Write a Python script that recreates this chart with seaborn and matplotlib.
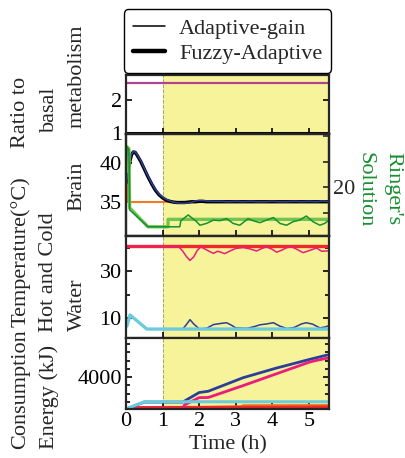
import matplotlib
matplotlib.use("Agg")
import matplotlib.pyplot as plt
from matplotlib.lines import Line2D
from matplotlib.ticker import FixedLocator
import seaborn as sns

# ── data (time in hours) ──
T_END = 5.55

ratio_t = [0, T_END]
ratio_adaptive = [2.52, 2.52]
ratio_fuzzy = [1.0, 1.0]

brain_t = [0, 0.05, 0.1, 0.15, 0.2, 0.25, 0.3, 0.4, 0.5, 0.6, 0.7, 0.8, 0.9, 1.0,
           1.1, 1.2, 1.3, 1.4, 1.5, 1.6, 1.7, 1.8, 1.9, 2.0, 2.1, 2.2, 2.4, 2.6,
           2.8, 3.0, 3.2, 3.4, 3.6, 3.8, 4.0, 4.2, 4.4, 4.6, 4.8, 5.0, 5.2, 5.4, 5.55]
brain_adaptive = [37.4, 38.6, 40.2, 41.1, 41.45, 41.4, 41.1, 40.3, 39.3, 38.3, 37.4,
                  36.6, 36.0, 35.6, 35.3, 35.1, 34.95, 34.85, 34.8, 34.8, 34.85, 34.95,
                  35.1, 35.15, 35.15, 35.1, 35.05, 35.05, 35.0, 35.05, 35.0, 35.05,
                  35.0, 35.0, 35.05, 35.0, 35.0, 35.05, 35.0, 35.05, 35.0, 35.1, 35.0]
brain_fuzzy = [37.4, 38.5, 40.1, 41.0, 41.4, 41.35, 41.0, 40.2, 39.2, 38.2, 37.3,
               36.5, 35.9, 35.5, 35.2, 35.05, 34.95, 34.9, 34.9, 34.9, 34.95, 35.0,
               35.0, 35.05, 35.05, 35.0, 35.0, 35.0, 35.0, 35.0, 35.0, 35.0,
               35.0, 35.0, 35.0, 35.0, 35.0, 35.0, 35.0, 35.0, 35.0, 35.0, 35.0]
target_t = [0, 0.04, 0.04, T_END]
target = [37.4, 37.4, 35.0, 35.0]

ringer_fuzzy_t = [0, 0.03, 0.08, 0.1, 0.6, 1.15, 1.15, T_END]
ringer_fuzzy = [23.0, 27.9, 27.5, 16.0, 12.3, 12.3, 13.75, 13.75]
ringer_adaptive_t = [0, 0.03, 0.08, 0.1, 0.6, 1.47, 1.5, 1.7, 1.79, 1.93, 2.02, 2.2,
                     2.39, 2.57, 2.75, 2.93, 3.11, 3.34, 3.47, 3.66, 3.84, 4.03, 4.21,
                     4.39, 4.57, 4.75, 4.93, 5.11, 5.3, 5.43, 5.55]
ringer_adaptive = [22.8, 27.9, 27.3, 15.6, 12.3, 12.3, 13.5, 14.6, 14.1, 13.3, 12.6,
                   12.95, 13.6, 13.5, 13.9, 12.95, 12.6, 13.9, 13.5, 13.1, 13.6, 14.1,
                   12.95, 12.6, 13.3, 13.6, 14.4, 13.3, 12.6, 12.95, 13.6]

hot_fuzzy_t = [0, T_END]
hot_fuzzy = [40.6, 40.6]
hot_adaptive_t = [0, 1.0, 1.45, 1.55, 1.65, 1.75, 1.85, 1.95, 2.05, 2.2, 2.39, 2.5,
                  2.57, 2.7, 2.84, 3.0, 3.2, 3.39, 3.57, 3.7, 3.84, 4.0, 4.12, 4.25,
                  4.39, 4.5, 4.57, 4.7, 4.84, 5.03, 5.21, 5.35, 5.55]
hot_adaptive = [40.6, 40.6, 40.2, 38.5, 36.2, 34.5, 36.0, 38.8, 40.3, 39.0, 37.5,
                38.4, 38.1, 37.4, 38.5, 39.6, 40.0, 39.4, 38.5, 39.5, 40.3, 39.2,
                38.0, 38.8, 39.9, 40.3, 40.0, 39.0, 37.8, 38.8, 39.8, 38.4, 38.6]
cold_fuzzy_t = [0, 0.03, 0.11, 0.57, T_END]
cold_fuzzy = [6.3, 6.8, 11.3, 5.3, 5.3]
cold_adaptive_t = [0, 0.03, 0.11, 0.57, 1.55, 1.65, 1.75, 1.85, 2.0, 2.2, 2.39, 2.55,
                   2.75, 2.9, 3.0, 3.3, 3.5, 3.66, 3.85, 4.03, 4.2, 4.4, 4.6, 4.8,
                   4.93, 5.1, 5.3, 5.45, 5.55]
cold_adaptive = [6.3, 6.8, 11.3, 5.3, 5.3, 7.2, 9.3, 7.5, 5.4, 5.6, 7.2, 7.6, 8.0,
                 6.8, 5.8, 5.6, 6.3, 7.1, 7.5, 8.0, 6.6, 5.5, 6.0, 7.5, 8.0, 7.4,
                 5.8, 6.2, 6.8]

energy_t = [0, 0.5, 1.55, 2.0, 2.25, 3.2, 4.1, 5.03, 5.48, 5.55]
energy_adaptive = [2060, 2480, 2480, 3060, 3140, 3960, 4540, 5080, 5330, 5350]
energy_hot_t = [0, 1.55, 1.6, 2.0, 2.25, 3.2, 4.1, 5.03, 5.2, 5.48, 5.55]
energy_hot = [2060, 2060, 2310, 2750, 2760, 3480, 4190, 4920, 5010, 5140, 5140]
energy_cold_t = [0, 0.5, T_END]
energy_cold = [2060, 2500, 2500]
energy_red_t = [0, 0.3, T_END]
energy_red = [2060, 2130, 2160]
energy_orange_t = [0, 3.2, 3.2, T_END]
energy_orange = [2060, 2200, 2260, 2270]

BLUE = "#2b3f98"
ORANGE = "#f07a22"
DGREEN = "#16902f"
LGREEN = "#72c450"
RED = "#f0282a"
PINK = "#ec1c7c"
CYAN = "#6ccbdc"
PURPLE = "#b0448e"
YELLOW = "#f7f39b"

sns.set_theme(style="ticks")
plt.rcParams["font.family"] = ["Liberation Serif", "DejaVu Serif"]
plt.rcParams["font.size"] = 16

W, H = 406, 458
fig = plt.figure(figsize=(W / 100, H / 100), dpi=100)


def rect(top, bot):
    return [126 / W, 1 - bot / H, (329 - 126) / W, (bot - top) / H]


def line(ax, t, v, color, lw):
    sns.lineplot(x=t, y=v, ax=ax, color=color, linewidth=lw,
                 estimator=None, sort=False, legend=False)


ax1 = fig.add_axes(rect(75, 134))
ax2 = fig.add_axes(rect(134, 236))
ax3 = fig.add_axes(rect(236, 338))
ax4 = fig.add_axes(rect(338, 409))
axes = [ax1, ax2, ax3, ax4]

for ax in axes:
    ax.axvspan(1, T_END, color=YELLOW, lw=0, zorder=0)
    ax.axvline(1, color="#a8a070", lw=0.7, ls="--", zorder=0.5)
    ax.set_xlim(0, T_END)
    ax.set_xticks([0, 1, 2, 3, 4, 5])
    for s in ax.spines.values():
        s.set_linewidth(1.6)
        s.set_zorder(5)
    ax.tick_params(which="both", direction="in", left=True, right=True,
                   bottom=True, labelsize=16, pad=3, width=1.2, colors="black")
    ax.tick_params(which="major", length=4)
    ax.tick_params(which="minor", length=3)
    ax.set_xlabel("")
    ax.set_ylabel("")
    if ax is not ax4:
        ax.tick_params(labelbottom=False)

# ── ratio to basal metabolism ──
line(ax1, ratio_t, ratio_adaptive, PURPLE, 1.6)
line(ax1, ratio_t, ratio_fuzzy, "black", 2.2)
ax1.set_ylim(0.96, 2.76)
ax1.set_yticks([1, 2])

# ── brain temperature + Ringer's ──
line(ax2, target_t, target, ORANGE, 1.5)
line(ax2, brain_t, brain_fuzzy, "black", 2.4)
line(ax2, brain_t, brain_adaptive, BLUE, 1.1)
ax2.set_ylim(30.6, 43.7)
ax2.set_yticks([35, 40])
ax2.tick_params(right=False, which="both")

axr = ax2.twinx()
line(axr, ringer_fuzzy_t, ringer_fuzzy, LGREEN, 2.4)
line(axr, ringer_adaptive_t, ringer_adaptive, DGREEN, 1.1)
axr.set_ylim(10.5, 30.4)
axr.set_yticks([20])
axr.yaxis.set_minor_locator(FixedLocator([15, 25, 30]))
axr.tick_params(which="both", direction="in", right=True, labelsize=16, pad=3, width=1.2)
axr.tick_params(which="major", length=4)
axr.tick_params(which="minor", length=4)
axr.set_ylabel("")
for s in axr.spines.values():
    s.set_linewidth(1.6)

# ── hot and cold water ──
line(ax3, hot_fuzzy_t, hot_fuzzy, RED, 2.4)
line(ax3, hot_adaptive_t, hot_adaptive, PINK, 1.1)
line(ax3, cold_adaptive_t, cold_adaptive, BLUE, 1.1)
line(ax3, cold_fuzzy_t, cold_fuzzy, CYAN, 2.4)
ax3.set_ylim(1.5, 44.9)
ax3.set_yticks([10, 30])
ax3.yaxis.set_minor_locator(FixedLocator([20, 40]))

# ── energy consumption ──
line(ax4, energy_orange_t, energy_orange, ORANGE, 2.2)
line(ax4, energy_red_t, energy_red, RED, 2.6)
line(ax4, energy_t, energy_adaptive, BLUE, 2.0)
line(ax4, energy_hot_t, energy_hot, PINK, 2.0)
line(ax4, energy_cold_t, energy_cold, CYAN, 2.2)
ax4.set_ylim(2060, 6375)
ax4.set_yticks([4000])
ax4.yaxis.set_minor_locator(FixedLocator([2500, 3000, 3500, 4500, 5000, 5500, 6000]))
ax4.tick_params(axis="x", pad=2)
fig.text(228 / W, 1 - 445 / H, "Time (h)", ha="center", va="center", fontsize=16)

# ── legend ──
handles = [Line2D([], [], color="black", lw=1.1), Line2D([], [], color="black", lw=3.2)]
leg = ax1.legend(handles, ["Adaptive-gain", "Fuzzy-Adaptive"], loc="lower center",
                 bbox_to_anchor=(0.5, 1.0), fontsize=16, frameon=True, fancybox=True,
                 edgecolor="black", framealpha=1, borderaxespad=0.1, borderpad=0.4,
                 handlelength=1.45, handletextpad=0.65, labelspacing=0.2)
leg.get_frame().set_linewidth(1.0)

# ── y labels ──
def ylab(x, y, s, **kw):
    fig.text(x / W, 1 - y / H, s, rotation=90, ha="center", va="bottom",
             fontsize=16, **kw)


ylab(21, 449, "Consumption")
ylab(21, 327, "Temperature(°C)")
ylab(21, 148, "Ratio to")
ylab(49, 449, "Energy (kJ)")
ylab(49, 332, "Hot and Cold")
ylab(49, 132, "basal")
ylab(77, 331, "Water")
ylab(77, 211, "Brain")
ylab(77, 128, "metabolism")

for x, s in [(393, "Ringer's"), (365, "Solution")]:
    fig.text(x / W, 1 - 152 / H, s, rotation=270, ha="center", va="top",
             fontsize=16, color=DGREEN)

fig.savefig("out.png", dpi=100)
